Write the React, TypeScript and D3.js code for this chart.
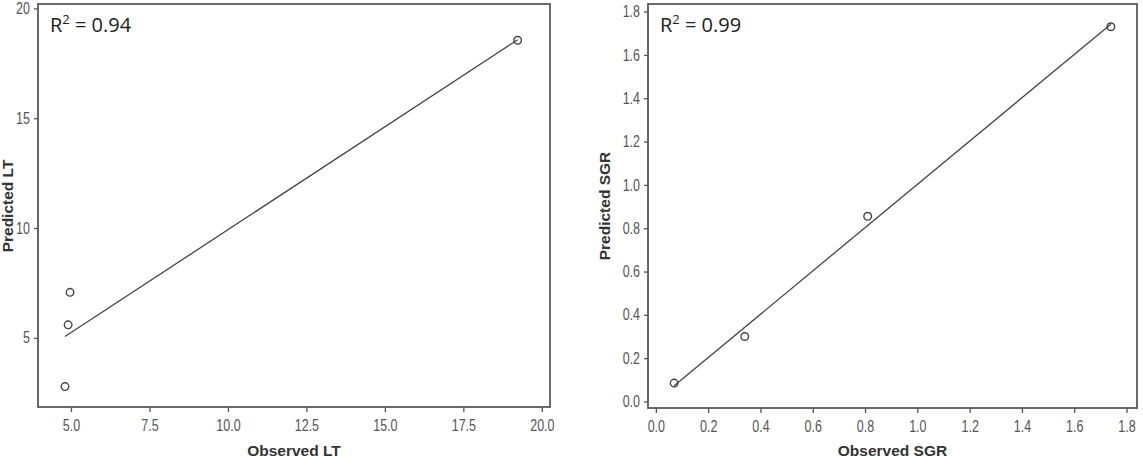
import React, { useEffect, useRef } from 'react';
import * as D3 from 'd3';

// observed vs predicted values
const ltObserved = [4.81, 4.91, 4.97, 19.23];
const ltPredicted = [2.78, 5.59, 7.07, 18.55];
const ltTicksX = [5, 7.5, 10, 12.5, 15, 17.5, 20];
const ltTicksY = [5, 10, 15, 20];

const sgrObserved = [0.07, 0.34, 0.81, 1.74];
const sgrPredicted = [0.085, 0.3, 0.855, 1.73];
const sgrTicks = [0, 0.2, 0.4, 0.6, 0.8, 1.0, 1.2, 1.4, 1.6, 1.8];

const panels = [
    {
        obs: ltObserved, pred: ltPredicted,
        xDomain: [3.95, 20.26], yDomain: [1.85, 20.2],
        xTicks: ltTicksX, yTicks: ltTicksY, fmt: '.1f', yFmt: 'd',
        xLabel: 'Observed LT', yLabel: 'Predicted LT', r2: '0.94',
        box: { left: 38, top: 4, right: 550, bottom: 407 }, yLabelX: 13,
    },
    {
        obs: sgrObserved, pred: sgrPredicted,
        xDomain: [-0.03, 1.84], yDomain: [-0.03, 1.835],
        xTicks: sgrTicks, yTicks: sgrTicks, fmt: '.1f', yFmt: '.1f',
        xLabel: 'Observed SGR', yLabel: 'Predicted SGR', r2: '0.99',
        box: { left: 648, top: 4, right: 1137, bottom: 408 }, yLabelX: 610,
    },
];

const App = () => {

    const container = useRef(null);

    useEffect(() => {
        if (!container.current) return;
        const svg = D3.select(container.current);
        svg.selectAll('*').remove();

        panels.forEach(p => {
            const b = p.box;
            const x = D3.scaleLinear().domain(p.xDomain).range([b.left, b.right]);
            const y = D3.scaleLinear().domain(p.yDomain).range([b.bottom, b.top]);
            const g = svg.append('g');

            g.append('rect')
                .attr('x', b.left).attr('y', b.top)
                .attr('width', b.right - b.left).attr('height', b.bottom - b.top)
                .attr('fill', 'white').attr('stroke', '#5a5a5a').attr('stroke-width', 1.8);

            const xAxis = g.append('g')
                .attr('transform', `translate(0, ${b.bottom})`)
                .call(D3.axisBottom(x).tickValues(p.xTicks).tickSize(5).tickPadding(8).tickFormat(D3.format(p.fmt)));
            const yAxis = g.append('g')
                .attr('transform', `translate(${b.left}, 0)`)
                .call(D3.axisLeft(y).tickValues(p.yTicks).tickSize(4).tickPadding(4).tickFormat(D3.format(p.yFmt)));

            [xAxis, yAxis].forEach(a => {
                a.select('.domain').remove();
                a.selectAll('line').attr('stroke', '#555').attr('stroke-width', 1.3);
                a.selectAll('text')
                    .attr('fill', '#555')
                    .style('font-family', "'Liberation Sans', Arial, sans-serif")
                    .style('font-size', '16px')
                    .each(function () {
                        // squeeze the glyphs to get the narrow look of the original
                        const t = this as SVGTextElement;
                        t.setAttribute('textLength', String(t.getComputedTextLength() * 0.78));
                        t.setAttribute('lengthAdjust', 'spacingAndGlyphs');
                    });
            });

            // least squares fit line between the smallest and largest observed value
            const mx = D3.mean(p.obs) as number;
            const my = D3.mean(p.pred) as number;
            const sxy = D3.sum(p.obs, (d, i) => (d - mx) * (p.pred[i] - my));
            const sxx = D3.sum(p.obs, d => (d - mx) * (d - mx));
            const slope = sxy / sxx;
            const icpt = my - slope * mx;
            const ext = D3.extent(p.obs) as [number, number];
            g.append('path')
                .datum(ext)
                .attr('d', D3.line<number>().x(d => x(d)).y(d => y(icpt + slope * d)))
                .attr('stroke', '#444').attr('stroke-width', 1.3).attr('fill', 'none');

            g.selectAll('circle.pt')
                .data(p.obs)
                .join('circle')
                .attr('class', 'pt')
                .attr('cx', d => x(d))
                .attr('cy', (d, i) => y(p.pred[i]))
                .attr('r', 3.8)
                .attr('fill', 'none')
                .attr('stroke', '#444')
                .attr('stroke-width', 1.4);

            g.append('text')
                .attr('x', (b.left + b.right) / 2)
                .attr('y', 456)
                .attr('text-anchor', 'middle')
                .attr('fill', '#333')
                .style('font-family', 'Liberation Sans, Arial, sans-serif')
                .style('font-weight', 'bold')
                .style('font-size', '15.5px')
                .text(p.xLabel);

            g.append('text')
                .attr('transform', `translate(${p.yLabelX}, 206) rotate(-90)`)
                .attr('text-anchor', 'middle')
                .attr('fill', '#333')
                .style('font-family', 'Liberation Sans, Arial, sans-serif')
                .style('font-weight', 'bold')
                .style('font-size', '15.5px')
                .text(p.yLabel);

            const r2 = g.append('text')
                .attr('x', b.left + 12)
                .attr('y', 32)
                .attr('fill', '#222')
                .style('font-family', "'Open Sans', sans-serif")
                .style('font-size', '20px');
            r2.append('tspan').text('R');
            r2.append('tspan').attr('dy', -8).style('font-size', '13px').text('2');
            r2.append('tspan').attr('dy', 8).text(` = ${p.r2}`);
        });
    }, []);

    return (
        <svg ref={container} width={1143} height={466}
            style={{ position: 'absolute', left: 0, top: 0, background: 'white' }} />
    );
}

export default App;
